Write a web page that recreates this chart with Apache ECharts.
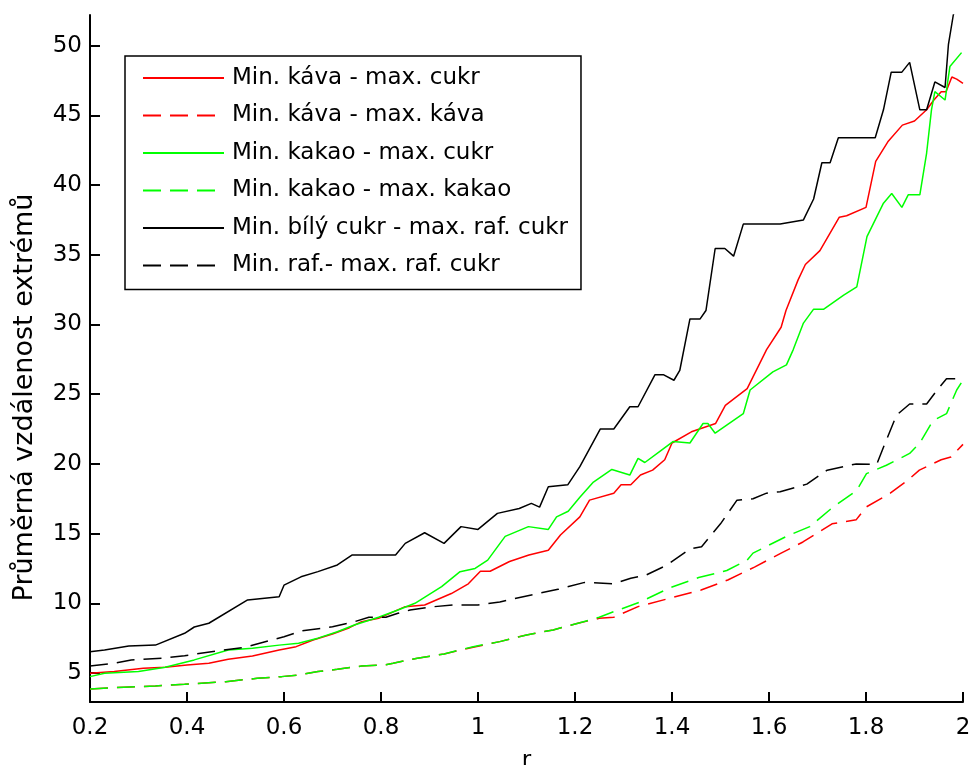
<!DOCTYPE html>
<html>
<head>
<meta charset="utf-8">
<script src="https://cdn.jsdelivr.net/npm/echarts@6/dist/echarts.min.js"></script>
<style>html,body{margin:0;padding:0;background:#fff}#c{width:973px;height:765px}</style>
</head>
<body>
<div id="c"></div>
<script>
const seriesNames = ['Min. káva - max. cukr','Min. káva - max. káva','Min. kakao - max. cukr','Min. kakao - max. kakao','Min. bílý cukr - max. raf. cukr','Min. raf.- max. raf. cukr'];
const xTicks = [0.2,0.4,0.6,0.8,1,1.2,1.4,1.6,1.8,2];
const yTicks = [5,10,15,20,25,30,35,40,45,50];

const kavaCukr = [[0.2,4.98],[0.25,5.1],[0.31,5.34],[0.355,5.41],[0.4,5.58],[0.445,5.7],[0.485,5.99],[0.535,6.22],[0.59,6.65],[0.625,6.89],[0.66,7.37],[0.7,7.8],[0.735,8.25],[0.76,8.68],[0.795,8.92],[0.85,9.76],[0.89,9.88],[0.945,10.7],[0.98,11.4],[1.005,12.3],[1.025,12.3],[1.065,13.0],[1.105,13.46],[1.145,13.8],[1.17,14.9],[1.21,16.2],[1.23,17.4],[1.28,17.9],[1.295,18.5],[1.315,18.5],[1.335,19.2],[1.36,19.55],[1.385,20.3],[1.4,21.5],[1.44,22.3],[1.49,22.9],[1.51,24.2],[1.555,25.4],[1.595,28.2],[1.625,29.8],[1.635,31.0],[1.66,33.2],[1.675,34.3],[1.705,35.3],[1.745,37.7],[1.76,37.8],[1.8,38.4],[1.82,41.7],[1.845,43.1],[1.875,44.3],[1.9,44.6],[1.925,45.4],[1.94,46.1],[1.955,46.7],[1.965,46.7],[1.977,47.75],[1.987,47.6],[2.0,47.3]];
const kavaKava = [[0.2,3.85],[0.27,3.98],[0.335,4.07],[0.395,4.19],[0.48,4.38],[0.545,4.62],[0.595,4.74],[0.63,4.86],[0.67,5.1],[0.71,5.27],[0.76,5.5],[0.81,5.6],[0.825,5.7],[0.875,6.06],[0.93,6.37],[0.99,6.85],[1.045,7.25],[1.1,7.73],[1.155,8.09],[1.21,8.61],[1.25,8.92],[1.28,9.0],[1.33,9.76],[1.395,10.36],[1.46,10.95],[1.515,11.67],[1.57,12.6],[1.625,13.6],[1.67,14.4],[1.73,15.7],[1.78,16.0],[1.8,16.9],[1.85,17.9],[1.885,18.8],[1.91,19.55],[1.955,20.3],[1.975,20.5],[2.0,21.4]];
const kakaoCukr = [[0.2,4.74],[0.23,4.98],[0.3,5.1],[0.355,5.41],[0.415,5.94],[0.485,6.65],[0.535,6.77],[0.59,7.0],[0.63,7.13],[0.67,7.5],[0.71,7.96],[0.745,8.44],[0.795,9.0],[0.835,9.52],[0.87,10.0],[0.925,11.2],[0.963,12.27],[0.994,12.5],[1.02,13.1],[1.056,14.8],[1.104,15.5],[1.145,15.3],[1.162,16.2],[1.186,16.6],[1.21,17.6],[1.238,18.7],[1.276,19.6],[1.313,19.2],[1.33,20.4],[1.344,20.1],[1.375,20.9],[1.402,21.6],[1.437,21.5],[1.464,22.9],[1.474,22.9],[1.489,22.2],[1.547,23.6],[1.561,25.3],[1.608,26.6],[1.636,27.1],[1.65,28.2],[1.671,30.1],[1.692,31.1],[1.713,31.1],[1.754,32.1],[1.781,32.7],[1.802,36.3],[1.836,38.7],[1.853,39.4],[1.874,38.4],[1.887,39.3],[1.911,39.3],[1.925,42.3],[1.935,45.4],[1.942,46.7],[1.963,46.1],[1.973,48.5],[1.997,49.5]];
const kakaoKakao = [[0.2,3.85],[0.27,3.98],[0.335,4.07],[0.395,4.19],[0.48,4.38],[0.545,4.62],[0.595,4.74],[0.63,4.86],[0.67,5.1],[0.71,5.27],[0.76,5.5],[0.81,5.6],[0.825,5.7],[0.875,6.06],[0.93,6.37],[0.99,6.89],[1.045,7.25],[1.1,7.73],[1.155,8.09],[1.21,8.61],[1.25,9.0],[1.28,9.4],[1.335,10.1],[1.395,11.1],[1.455,11.85],[1.513,12.35],[1.555,13.1],[1.567,13.6],[1.636,14.8],[1.684,15.5],[1.732,16.9],[1.781,18.1],[1.801,19.3],[1.842,19.9],[1.89,20.75],[1.911,21.5],[1.938,23.1],[1.966,23.6],[1.987,25.3],[2.0,26.0]];
const bilyRaf = [[0.2,6.53],[0.23,6.65],[0.28,6.94],[0.335,7.0],[0.395,7.85],[0.415,8.3],[0.445,8.57],[0.525,10.24],[0.59,10.47],[0.6,11.3],[0.635,11.9],[0.67,12.27],[0.71,12.75],[0.74,13.46],[0.83,13.46],[0.85,14.3],[0.89,15.06],[0.93,14.3],[0.965,15.5],[1.0,15.3],[1.04,16.45],[1.085,16.8],[1.11,17.17],[1.127,16.9],[1.145,18.36],[1.185,18.5],[1.21,19.8],[1.252,22.5],[1.28,22.5],[1.313,24.1],[1.33,24.1],[1.365,26.4],[1.382,26.4],[1.404,26.0],[1.416,26.7],[1.437,30.4],[1.458,30.4],[1.47,31.0],[1.489,35.45],[1.509,35.45],[1.527,34.9],[1.547,37.2],[1.623,37.2],[1.671,37.5],[1.692,39.0],[1.709,41.6],[1.726,41.6],[1.743,43.4],[1.819,43.4],[1.836,45.4],[1.852,48.1],[1.874,48.1],[1.89,48.8],[1.911,45.4],[1.925,45.4],[1.942,47.4],[1.963,47.0],[1.97,50.1],[1.98,52.2],[2.0,54.5]];
const rafRaf = [[0.2,5.5],[0.25,5.7],[0.285,5.94],[0.35,6.06],[0.395,6.24],[0.465,6.6],[0.52,6.85],[0.575,7.37],[0.6,7.6],[0.635,8.01],[0.7,8.32],[0.745,8.68],[0.775,9.0],[0.81,9.0],[0.835,9.28],[0.86,9.52],[0.91,9.76],[0.95,9.88],[1.0,9.88],[1.045,10.1],[1.11,10.6],[1.165,11.0],[1.22,11.5],[1.28,11.4],[1.315,11.8],[1.345,12.0],[1.39,12.75],[1.437,13.9],[1.461,14.06],[1.5,15.7],[1.534,17.4],[1.567,17.5],[1.595,17.9],[1.623,18.0],[1.678,18.55],[1.72,19.55],[1.78,20.0],[1.822,19.96],[1.836,21.2],[1.863,23.5],[1.89,24.3],[1.925,24.3],[1.949,25.4],[1.966,26.1],[2.0,26.1]];

const FONT = 'DejaVu Sans';
const chart = echarts.init(document.getElementById('c'), null, {renderer: 'canvas'});
function mk(name, data, color, dashed) {
  return {
    name: name, type: 'line', data: data, symbol: 'none', showSymbol: false,
    clip: true, animation: false,
    lineStyle: {color: color, width: 1.5, type: dashed ? [18, 9] : 'solid'},
    itemStyle: {color: color}
  };
}
chart.setOption({
  animation: false,
  backgroundColor: '#fff',
  textStyle: {fontFamily: FONT},
  grid: {left: 90, right: 10, top: 15, bottom: 63, containLabel: false, outerBoundsMode: 'none'},
  legend: {
    orient: 'vertical', left: 125, top: 56,
    data: seriesNames,
    itemWidth: 81, itemHeight: 14, itemGap: 13.5,
    padding: [10, 13, 12, 17],
    borderColor: '#000', borderWidth: 1.5, backgroundColor: '#fff',
    itemStyle: {opacity: 0},
    textStyle: {fontFamily: FONT, fontSize: 23, color: '#000', lineHeight: 24, padding: [0, 0, 0, 3]},
    selectedMode: false
  },
  xAxis: {
    type: 'value', min: 0.2, max: 2, interval: 0.2,
    name: 'r', nameLocation: 'middle', nameGap: 48,
    nameTextStyle: {fontFamily: FONT, fontSize: 23, color: '#000'},
    axisLine: {onZero: false, lineStyle: {color: '#000', width: 2}},
    axisTick: {inside: true, length: 10, lineStyle: {color: '#000', width: 2}, customValues: xTicks},
    axisLabel: {fontFamily: FONT, fontSize: 23, color: '#000', margin: 15, customValues: xTicks},
    splitLine: {show: false}
  },
  yAxis: {
    type: 'value', min: 2.92, max: 52.2,
    name: 'Průměrná vzdálenost extrémů', nameLocation: 'middle', nameGap: 52,
    nameTextStyle: {fontFamily: FONT, fontSize: 27, color: '#000', padding: [0, 78, 0, 0]},
    axisLine: {onZero: false, lineStyle: {color: '#000', width: 2}},
    axisTick: {inside: true, length: 10, lineStyle: {color: '#000', width: 2}, customValues: yTicks},
    axisLabel: {fontFamily: FONT, fontSize: 23, color: '#000', margin: 8, customValues: yTicks},
    splitLine: {show: false}
  },
  series: [
    mk(seriesNames[0], kavaCukr, '#ff0000', false),
    mk(seriesNames[1], kavaKava, '#ff0000', true),
    mk(seriesNames[2], kakaoCukr, '#00ff00', false),
    mk(seriesNames[3], kakaoKakao, '#00ff00', true),
    mk(seriesNames[4], bilyRaf, '#000000', false),
    mk(seriesNames[5], rafRaf, '#000000', true)
  ]
});
</script>
</body>
</html>
